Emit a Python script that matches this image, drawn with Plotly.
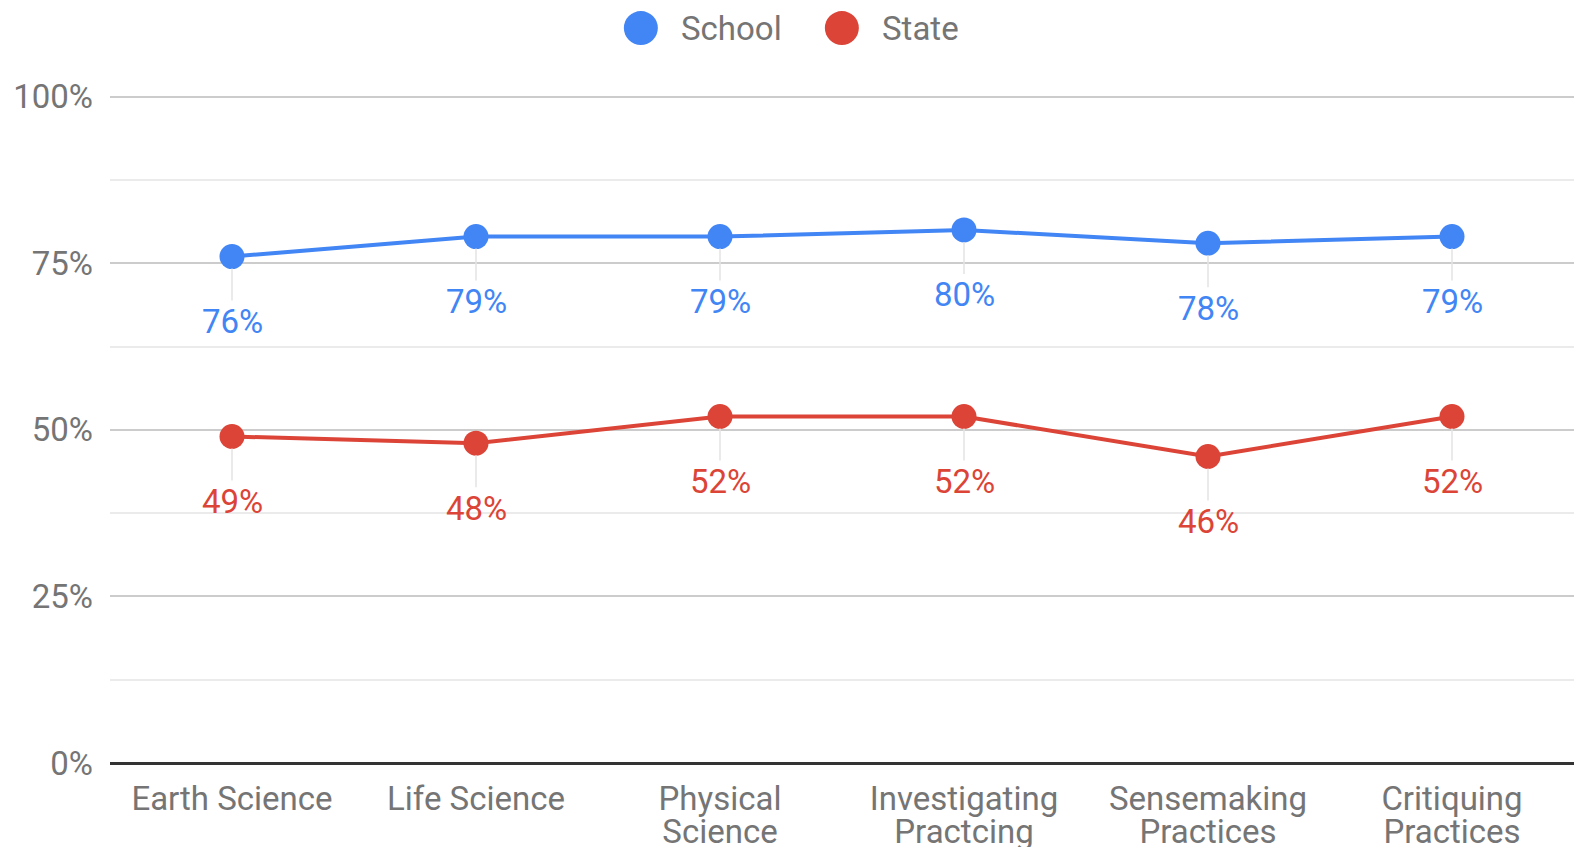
import plotly.graph_objects as go

categories = ["Earth Science", "Life Science", "Physical Science",
              "Investigating Practcing", "Sensemaking Practices", "Critiquing Practices"]
label_line1 = ["Earth Science", "Life Science", "Physical", "Investigating", "Sensemaking", "Critiquing"]
label_line2 = ["", "", "Science", "Practcing", "Practices", "Practices"]
school = [76, 79, 79, 80, 78, 79]
state = [49, 48, 52, 52, 46, 52]
y_ticks = [0, 25, 50, 75, 100]
series_names = ["School", "State"]

BLUE = "#4285F4"
RED = "#DB4437"
FONT = "Roboto"
GRAY = "#757575"

fig = go.Figure()
for name, vals, col in [("School", school, BLUE), ("State", state, RED)]:
    fig.add_trace(go.Scatter(
        x=categories, y=vals, mode="lines+markers", name=name,
        line=dict(color=col, width=4), marker=dict(color=col, size=25),
        showlegend=False, hoverinfo="skip", cliponaxis=False))
    for c, v in zip(categories, vals):
        fig.add_annotation(
            x=c, y=v, text=f"{v}%", showarrow=True, ax=0, ay=65,
            arrowhead=0, arrowwidth=1.5, arrowcolor="#e3e3e3", standoff=12,
            font=dict(family=FONT, size=33, color=col))

idx = list(range(len(categories)))
# invisible trace so the second-line label axis is rendered
fig.add_trace(go.Scatter(x=idx, y=school, xaxis="x2", mode="none",
                         showlegend=False, hoverinfo="skip"))

# legend (manual, large circles)
legend_circle_x = [0.3626, 0.4999]
legend_text_x = [0.389, 0.526]
legend_y = 1.092
for name, col, cx, tx in zip(series_names, [BLUE, RED], legend_circle_x, legend_text_x):
    fig.add_shape(type="circle", xref="paper", yref="paper",
                  xsizemode="pixel", ysizemode="pixel",
                  xanchor=cx, yanchor=legend_y, x0=-17, x1=17, y0=-17, y1=17,
                  fillcolor=col, line=dict(width=0))
    fig.add_annotation(xref="paper", yref="paper", x=tx, y=legend_y,
                       xanchor="left", yanchor="middle", showarrow=False,
                       text=name, font=dict(family=FONT, size=33, color=GRAY))

fig.update_layout(
    width=1574, height=847,
    margin=dict(l=110, r=0, t=90, b=84, autoexpand=False),
    paper_bgcolor="white", plot_bgcolor="white",
    font=dict(family=FONT, size=33, color=GRAY),
    showlegend=False,
    xaxis=dict(type="category", categoryorder="array", categoryarray=categories,
               range=[-0.5, 5.5], showgrid=False, zeroline=False, showline=False,
               tickvals=categories, ticktext=label_line1,
               tickfont=dict(family=FONT, size=33, color=GRAY), ticks="",
               ticklabelstandoff=13, automargin=False),
    xaxis2=dict(overlaying="x", anchor="y", side="bottom", type="linear",
                range=[-0.5, 5.5], showgrid=False, zeroline=False, showline=False,
                tickvals=idx, ticktext=label_line2,
                tickfont=dict(family=FONT, size=33, color=GRAY), ticks="",
                ticklabelstandoff=46, automargin=False),
    yaxis=dict(range=[0, 101], tickvals=y_ticks, ticktext=[f"{t}%" for t in y_ticks],
               showgrid=True, gridcolor="#cccccc", gridwidth=2,
               zeroline=True, zerolinecolor="#333333", zerolinewidth=3,
               tickfont=dict(family=FONT, size=33, color=GRAY), ticks="",
               ticklabelstandoff=16, automargin=False,
               minor=dict(tickvals=[12.5, 37.5, 62.5, 87.5], showgrid=True,
                          gridcolor="#ebebeb", gridwidth=1.5)),
)

fig.write_html("out.html", config={"displayModeBar": False},
               post_script="document.body.style.margin='0';document.body.style.overflow='hidden';")
